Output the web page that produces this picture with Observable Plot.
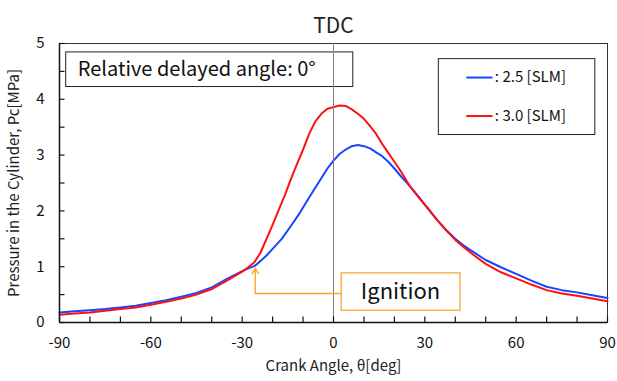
<!DOCTYPE html>
<html><head><meta charset="utf-8">
<script src="https://cdn.jsdelivr.net/npm/d3@7"></script>
<script src="https://cdn.jsdelivr.net/npm/@observablehq/plot@0.6"></script>
<style>body{margin:0;background:#fff;} svg{font-family:"Noto Sans CJK JP","Noto Sans",sans-serif;}</style>
</head><body><div id="chart"></div>
<script>
const angles25 = [-90,-85,-80,-75,-70,-65,-60,-55,-50,-45,-40,-35,-30,-28,-26,-24,-22,-20,-17,-14,-11,-8,-5,-2,0,2,4,6,8,10,12,14,16,18,20,22,25,28,31,34,37,40,43,46,50,55,60,65,70,75,80,85,90];
const pressure25 = [0.18,0.20,0.22,0.24,0.27,0.30,0.35,0.40,0.46,0.53,0.63,0.78,0.92,0.97,1.01,1.10,1.20,1.32,1.50,1.73,1.97,2.24,2.50,2.76,2.90,3.02,3.10,3.16,3.18,3.16,3.12,3.05,2.98,2.88,2.76,2.63,2.45,2.25,2.04,1.84,1.66,1.50,1.37,1.26,1.12,0.99,0.87,0.75,0.64,0.58,0.54,0.49,0.44];
const angles30 = [-90,-85,-80,-75,-70,-65,-60,-55,-50,-45,-40,-35,-30,-28,-26,-24,-22,-20,-18,-16,-14,-12,-10,-8,-6,-4,-2,0,2,4,6,8,10,12,14,16,18,20,22,25,28,31,34,37,40,43,46,50,55,60,65,70,75,80,85,90];
const pressure30 = [0.14,0.16,0.18,0.21,0.24,0.27,0.32,0.37,0.43,0.50,0.60,0.75,0.91,0.99,1.08,1.25,1.50,1.75,2.02,2.28,2.57,2.84,3.10,3.38,3.60,3.74,3.83,3.86,3.89,3.88,3.82,3.74,3.65,3.52,3.38,3.20,3.04,2.88,2.72,2.45,2.24,2.05,1.84,1.65,1.48,1.34,1.21,1.05,0.90,0.79,0.68,0.58,0.52,0.48,0.43,0.38];
const seriesNames = ["2.5 [SLM]", "3.0 [SLM]"];
const seriesColors = ["#1846ff", "#ff1010"];
const xTickLabels = [-90,-60,-30,0,30,60,90];
const yTickLabels = [0,1,2,3,4,5];
const xMinorTicks = [-90,-80,-70,-60,-50,-40,-30,-20,-10,0,10,20,30,40,50,60,70,80,90];
const yMinorTicks = [0,0.5,1,1.5,2,2.5,3,3.5,4,4.5,5];
const tdcAngle = 0;
const ignitionAngle = -25.7;
const ignitionPressure = 0.97;
const titleText = "TDC";
const conditionText = "Relative delayed angle: 0°";
const ignitionText = "Ignition";
const xLabel = "Crank Angle, θ[deg]";
const yLabel = "Pressure in the Cylinder, Pc[MPa]";

const rows = [
  ...angles25.map((a,i)=>({angle:a, p:pressure25[i], s:seriesNames[0]})),
  ...angles30.map((a,i)=>({angle:a, p:pressure30[i], s:seriesNames[1]}))
];
// annotation layout (in data units)
const condBox = {x1:-87.8, x2:6.5, y1:4.22, y2:4.84, tx:-84, ty:4.53};
const legBox = {x1:34.6, x2:86.0, y1:3.36, y2:4.72, lx1:43.8, lx2:52.4, ly:[4.39,3.70], tx:53.0};
const ignBox = {x1:2.7, x2:41.7, y1:0.21, y2:0.88, tx:22.0, ty:0.545, elbowY:0.52};
const orange = "#ffa31a";
const tickLenX = 0.1;  // ~5px in y units
const tickLenY = 1.8;  // ~5px in x units

const chart = Plot.plot({
  width: 617, height: 381,
  marginLeft: 59, marginRight: 10, marginTop: 43, marginBottom: 59,
  style: {fontFamily: '"Noto Sans CJK JP","Noto Sans",sans-serif', background: "#fff"},
  x: {domain: [-90, 90]},
  y: {domain: [0, 5]},
  marks: [
    Plot.frame({stroke: "#333", strokeWidth: 1}),
    Plot.line(rows, {x: "angle", y: "p", z: "s", stroke: d => seriesColors[seriesNames.indexOf(d.s)], strokeWidth: 2}),
    Plot.rect([condBox], {x1: "x1", x2: "x2", y1: "y1", y2: "y2", fill: "white", stroke: "#222", strokeWidth: 1}),
    Plot.text([conditionText], {x: condBox.tx, y: condBox.ty, text: d => d, textAnchor: "start", fontSize: 20, fill: "#111"}),
    Plot.ruleX([tdcAngle], {stroke: "#808080", strokeWidth: 1}),
    Plot.rect([legBox], {x1: "x1", x2: "x2", y1: "y1", y2: "y2", fill: "white", stroke: "#222", strokeWidth: 1}),
    Plot.ruleY(legBox.ly, {y: d => d, x1: legBox.lx1, x2: legBox.lx2, stroke: (d,i) => seriesColors[i], strokeWidth: 2}),
    Plot.text(seriesNames, {x: legBox.tx, y: (d,i) => legBox.ly[i], text: d => ": " + d, textAnchor: "start", fontSize: 15, fill: "#111"}),
    Plot.rect([ignBox], {x1: "x1", x2: "x2", y1: "y1", y2: "y2", fill: "white", stroke: "#f7b44f", strokeWidth: 1.5}),
    Plot.text([ignitionText], {x: ignBox.tx, y: ignBox.ty, text: d => d, fontSize: 22, fill: "#111"}),
    Plot.ruleY([ignBox.elbowY], {y: d => d, x1: ignitionAngle, x2: ignBox.x1, stroke: orange, strokeWidth: 1.3}),
    Plot.arrow([0], {x1: ignitionAngle, x2: ignitionAngle, y1: ignBox.elbowY, y2: ignitionPressure, stroke: orange, strokeWidth: 1.3, headLength: 7}),
    Plot.ruleX(xMinorTicks, {x: d => d, y1: 0, y2: tickLenX, stroke: "#111", strokeWidth: 1.2}),
    Plot.ruleY(yMinorTicks, {y: d => d, x1: -90, x2: -90 + tickLenY, stroke: "#111", strokeWidth: 1.2}),
    Plot.axisX({ticks: xTickLabels, tickSize: 0, tickPadding: 15, fontSize: 15, label: null, color: "#111", tickFormat: d => String(d)}),
    Plot.axisY({ticks: yTickLabels, tickSize: 0, tickPadding: 15, fontSize: 15, label: null, color: "#111", tickFormat: d => String(d)}),
    Plot.ruleY([0], {stroke: "#111", strokeWidth: 1.5}),
    Plot.ruleX([-90], {stroke: "#111", strokeWidth: 1.5}),
    Plot.text([titleText], {x: tdcAngle, frameAnchor: "top", dy: -25, text: d => d, fontSize: 21, fill: "#222"}),
    Plot.text([xLabel], {frameAnchor: "bottom", dy: 48, text: d => d, fontSize: 15, fill: "#222"}),
    Plot.text([yLabel], {frameAnchor: "left", dx: -45, rotate: -90, textAnchor: "middle", text: d => d, fontSize: 15, fill: "#222"})
  ]
});
document.getElementById("chart").appendChild(chart);
</script></body></html>
